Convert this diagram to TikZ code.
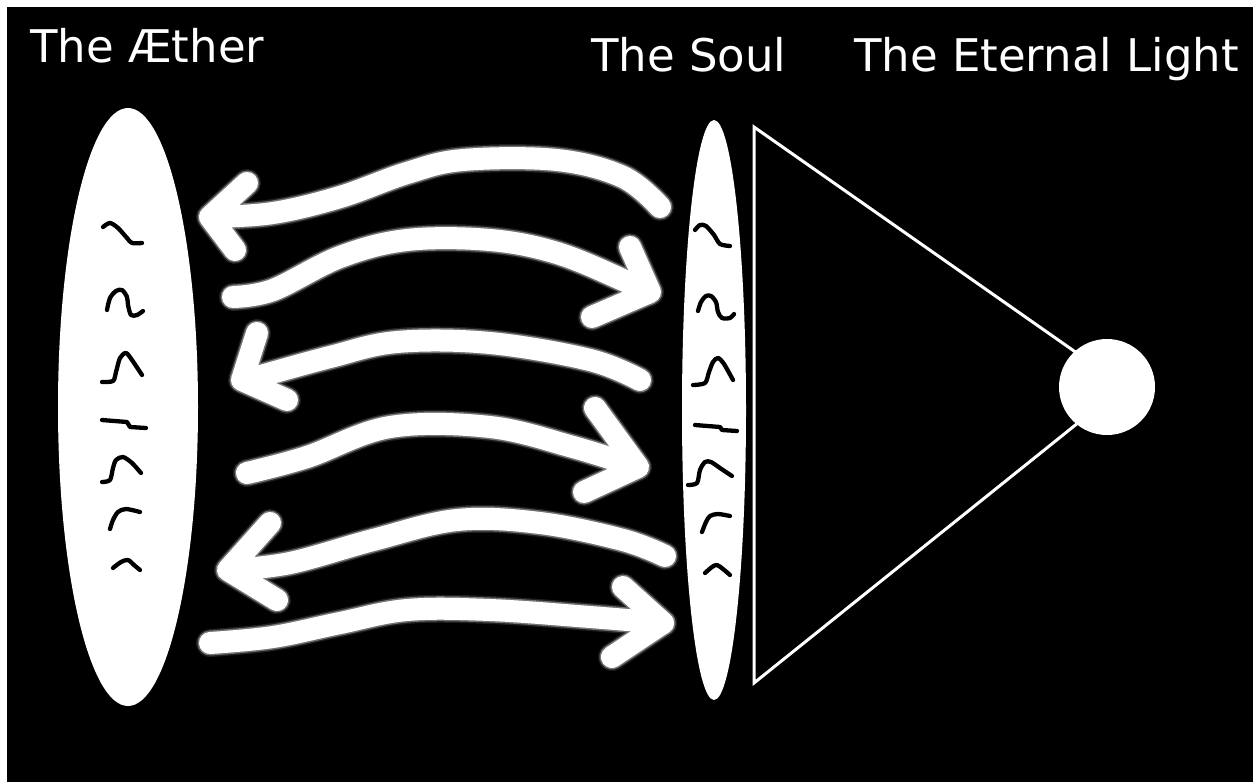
\documentclass[tikz,border=0pt]{standalone}
\usepackage{fontspec}
\setmainfont{DejaVu Sans}
\usetikzlibrary{shapes.geometric}
\begin{document}
\begin{tikzpicture}[x=1pt,y=-1pt,
  lbl/.style={anchor=base west,inner sep=0pt,text=white,font=\fontsize{45}{54}\selectfont},
  glowa/.style={draw=white!12!black,line width=28pt,line cap=round,line join=round},
  glowb/.style={draw=white!45!black,line width=25pt,line cap=round,line join=round},
  brush/.style={draw=white,line width=22pt,line cap=round,line join=round},
  squig/.style={draw=black,line width=4.3pt,line cap=round,line join=round},
  frame/.style={draw=white,line width=3pt,line join=miter}]
\useasboundingbox (0,0) rectangle (1253,782);
\fill[white] (0,0) rectangle (1253,782);
\fill[black] (7,7) rectangle (1253,782);
% titles
\node[lbl] (taether) at (30,62) {The Æther};
\node[lbl] (tsoul) at (591,71) {The Soul};
\node[lbl] (tlight) at (854,71) {The Eternal Light};
% aether and soul
\node[ellipse,fill=white,minimum width=140pt,minimum height=598pt,inner sep=0pt] (aether) at (128,407) {};
\node[ellipse,fill=white,minimum width=64pt,minimum height=580pt,inner sep=0pt] (soul) at (714,410) {};
% triangle and light
\coordinate (tl) at (754,127);
\coordinate (bl) at (754,683);
\coordinate (apex) at (1124,386);
\draw[frame] (bl) -- (tl) -- (apex) -- cycle;
\node[circle,fill=white,minimum size=96pt,inner sep=0pt] (light) at (1107,387) {};
% arrows: blurred halo first
\foreach \lay in {glowa,glowb,brush}{
  \draw[\lay] plot[smooth,tension=0.6] coordinates {(660,207) (623,177) (557,160) (463,160) (407,173) (340,197) (273,213) (212,217)};
  \draw[\lay] (247,183) -- (210,217) -- (235,250);
  \draw[\lay] plot[smooth,tension=0.6] coordinates {(233,297) (273,290) (340,257) (407,240) (490,240) (557,253) (623,280) (648,293)};
  \draw[\lay] (630,247) -- (650,292) -- (592,317);
  \draw[\lay] plot[smooth,tension=0.6] coordinates {(640,380) (590,360) (490,343) (397,342) (330,357) (257,377) (244,380)};
  \draw[\lay] (257,333) -- (242,380) -- (287,400);
  \draw[\lay] plot[smooth,tension=0.6] coordinates {(247,473) (307,457) (390,427) (490,427) (573,447) (637,467)};
  \draw[\lay] (595,408) -- (638,467) -- (584,492);
  \draw[\lay] plot[smooth,tension=0.6] coordinates {(665,556) (623,540) (540,523) (457,520) (373,540) (290,563) (230,570)};
  \draw[\lay] (270,523) -- (228,570) -- (277,600);
  \draw[\lay] plot[smooth,tension=0.6] coordinates {(210,643) (273,637) (340,623) (407,610) (490,610) (590,617) (663,623)};
  \draw[\lay] (623,587) -- (663,623) -- (612,657);
}
% aether squiggles
\draw[squig] plot[smooth,tension=0.5] coordinates {(103,227) (110,223) (118,228) (127,238) (132,243) (142,243)};
\draw[squig] plot[smooth,tension=0.5] coordinates {(107,310) (110,298) (116,291) (122,290) (127,297) (128,305) (131,315) (137,315) (143,311)};
\draw[squig] plot[smooth,tension=0.5] coordinates {(102,382) (113,381) (116,372) (120,358) (126,353) (132,360) (142,375)};
\draw[squig] (102,420) -- (127,422) -- (130,427) -- (146,428);
\draw[squig] plot[smooth,tension=0.5] coordinates {(102,482) (110,480) (113,468) (116,460) (123,457) (132,463) (141,473)};
\draw[squig] plot[smooth,tension=0.5] coordinates {(110,529) (113,520) (118,512) (126,509) (140,512)};
\draw[squig] plot[smooth,tension=0.5] coordinates {(113,568) (121,562) (128,560) (134,565) (140,570)};
% soul squiggles
\draw[squig] plot[smooth,tension=0.5] coordinates {(695,230) (700,225) (706,226) (714,235) (720,244) (730,246)};
\draw[squig] plot[smooth,tension=0.5] coordinates {(698,311) (701,302) (706,296) (711,296) (716,302) (718,312) (722,318) (730,318) (734,314)};
\draw[squig] plot[smooth,tension=0.5] coordinates {(693,385) (705,383) (709,372) (713,362) (718,358) (724,364) (733,380)};
\draw[squig] (695,425) -- (720,427) -- (722,430) -- (737,431);
\draw[squig] plot[smooth,tension=0.5] coordinates {(688,485) (697,483) (700,470) (705,462) (711,462) (720,468) (732,476)};
\draw[squig] plot[smooth,tension=0.5] coordinates {(702,532) (706,522) (710,516) (718,514) (730,516)};
\draw[squig] plot[smooth,tension=0.5] coordinates {(705,573) (712,567) (717,565) (723,569) (730,575)};
\end{tikzpicture}
\end{document}
